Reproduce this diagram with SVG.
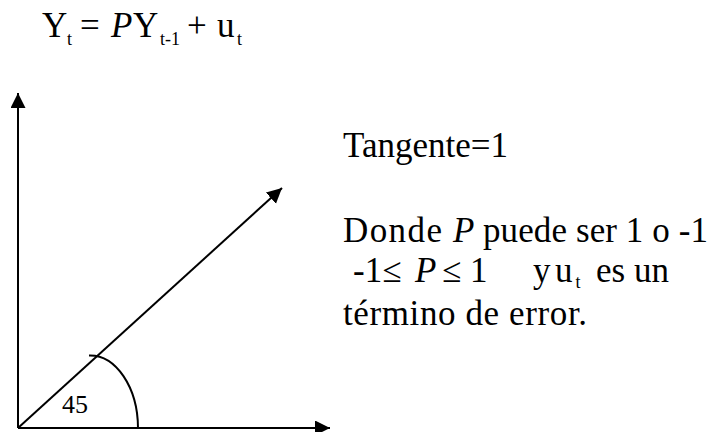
<svg xmlns="http://www.w3.org/2000/svg" width="716" height="432" viewBox="0 0 716 432">
<style>
  text { font-family: "Liberation Serif", "Times New Roman", serif; fill: #000; }
  .t { font-size: 35px; }
  .i { font-style: italic; }
  .sub { font-size: 18px; }
  .ln { stroke: #000; stroke-width: 2; fill: none; }
</style>
<defs>
  <marker id="ah" markerUnits="userSpaceOnUse" markerWidth="16" markerHeight="16" refX="15" refY="7.5" orient="auto">
    <path d="M0,0 L15,7.5 L0,15 z" fill="#000"/>
  </marker>
</defs>
<rect width="716" height="432" fill="#fff"/>
<g id="equation">
  <text class="t" x="42" y="37">Y</text>
  <text class="sub" x="67" y="45">t</text>
  <text class="t" x="80" y="37">=</text>
  <text class="t i" x="111" y="37">P</text>
  <text class="t" x="133" y="37">Y</text>
  <text class="sub" x="160" y="45">t-1</text>
  <text class="t" x="187" y="37">+</text>
  <text class="t" x="217" y="37">u</text>
  <text class="sub" x="237" y="45">t</text>
</g>
<g id="connectors">
  <line id="y-axis" class="ln" x1="18" y1="428" x2="18" y2="93" marker-end="url(#ah)"/>
  <line id="x-axis" class="ln" x1="18" y1="428" x2="330" y2="428" marker-end="url(#ah)"/>
  <line id="vector" class="ln" x1="18" y1="428" x2="282" y2="188" marker-end="url(#ah)"/>
  <path id="angle-arc" class="ln" d="M 89 355.5 A 48 73 0 0 1 138 428"/>
</g>
<g id="angle-label">
  <text x="62" y="413" style="font-size:26px">45</text>
</g>
<g id="notes">
  <text class="t" x="343" y="157">Tangente=1</text>
  <text class="t" x="343" y="242" textLength="99" lengthAdjust="spacing">Donde</text>
  <text class="t i" x="453" y="242">P</text>
  <text class="t" x="483" y="242" textLength="225" lengthAdjust="spacing">puede ser 1 o -1</text>
  <text class="t" x="353" y="282">-1≤</text>
  <text class="t i" x="415" y="282">P</text>
  <text class="t" x="442" y="282">≤ 1</text>
  <text class="t" x="533" y="282">y</text>
  <text class="t" x="555" y="282">u<tspan class="sub" dx="3" dy="6">t</tspan></text>
  <text class="t" x="596" y="282">es un</text>
  <text class="t" x="343" y="325" textLength="244" lengthAdjust="spacing">término de error.</text>
</g>
</svg>
